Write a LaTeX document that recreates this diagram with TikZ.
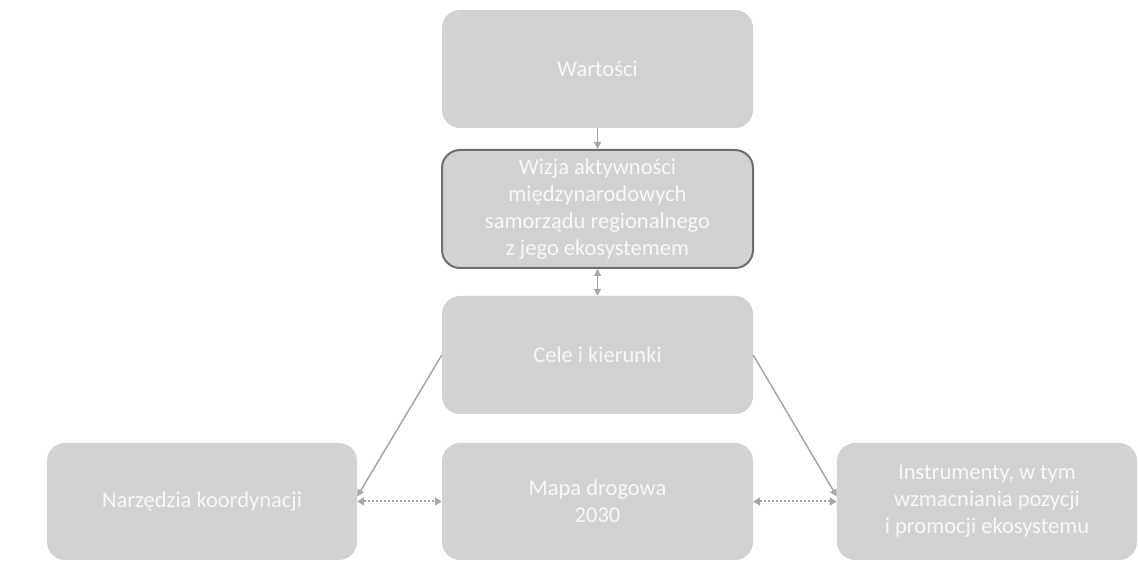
\documentclass[tikz,border=0pt]{standalone}
\usepackage{fontspec}
\setmainfont{Carlito}
\usetikzlibrary{arrows.meta}
\definecolor{boxfill}{HTML}{D2D2D2}
\definecolor{linegray}{HTML}{A6A6A6}
\definecolor{bordergray}{HTML}{6E6E6E}
\definecolor{textwhite}{HTML}{F7F7F7}
\tikzset{
  box/.style={rectangle, rounded corners=18pt, fill=boxfill, draw=none,
    minimum width=311pt, minimum height=118pt, align=center,
    text=textwhite, font=\fontsize{22.5pt}{27pt}\selectfont, inner sep=0pt},
  conn/.style={draw=linegray, line width=1.5pt, -{Triangle[length=7pt,width=7pt]}},
  dconn/.style={draw=linegray, line width=2pt, dash pattern=on 2pt off 2pt, {Triangle[length=7pt,width=8pt]}-{Triangle[length=7pt,width=8pt]}},
  biconn/.style={draw=linegray, line width=1.5pt, {Triangle[length=7pt,width=7pt]}-{Triangle[length=7pt,width=7pt]}}
}
\begin{document}
\begin{tikzpicture}[x=1pt,y=1pt]
\useasboundingbox (0,0) rectangle (1138,575);
\fill[white] (0,0) rectangle (1138,575);
\node[box] (W) at (597.5,506) {Wartości};
\node[box, draw=bordergray, line width=2pt] (V) at (597.5,366) {Wizja aktywności\\międzynarodowych\\samorządu regionalnego\\z jego ekosystemem};
\node[box] (C) at (597.5,220) {Cele i kierunki};
\node[box, minimum width=310pt, minimum height=117pt] (N) at (202,73.5) {Narzędzia koordynacji};
\node[box, minimum height=117pt] (M) at (597.5,73.5) {Mapa drogowa\\2030};
\node[box, minimum width=300pt, minimum height=117pt] (I) at (987,73.5) {Instrumenty, w tym\\wzmacniania pozycji\\i promocji ekosystemu};
\draw[conn] (W.south) -- (V.north);
\draw[biconn] (V.south) -- (C.north);
\draw[conn] (C.west) -- ([yshift=5pt]N.east);
\draw[conn] (C.east) -- ([yshift=5pt]I.west);
\draw[dconn] (N.east) -- (M.west);
\draw[dconn] (M.east) -- (I.west);
\end{tikzpicture}
\end{document}
